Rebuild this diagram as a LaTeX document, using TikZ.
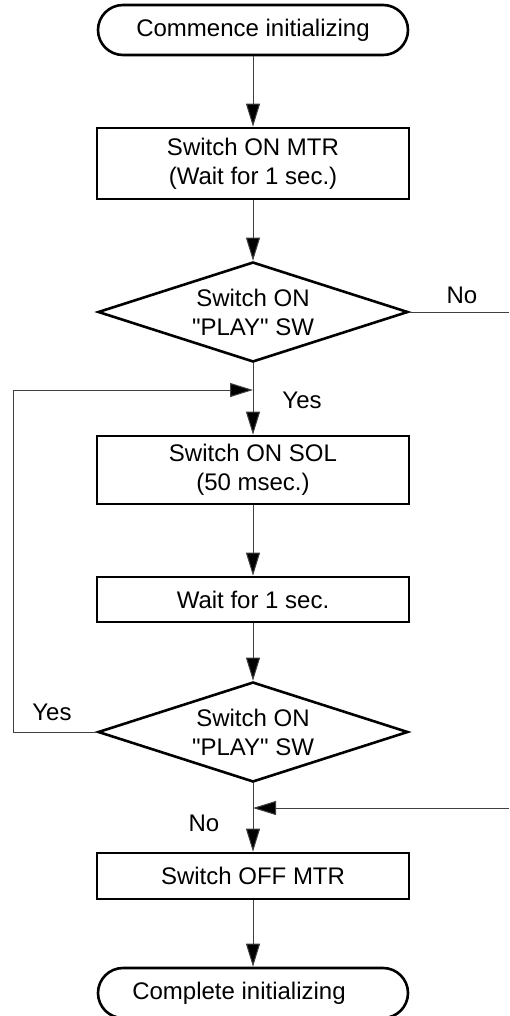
\documentclass[tikz,border=0pt]{standalone}
\usepackage{fontspec}
\setmainfont{Liberation Sans}[Ligatures=TeXOff]
\usetikzlibrary{shapes.geometric,arrows.meta}
\begin{document}
\begin{tikzpicture}[x=1pt,y=-1pt,
  every node/.style={font=\fontsize{24}{29}\selectfont},
  frame/.style={draw=black, line width=2.6pt},
  terminal/.style={frame, rounded corners=25pt, minimum width=310pt,
    minimum height=50pt, inner sep=0pt},
  process/.style={frame, minimum width=312pt, inner sep=0pt, align=center},
  decision/.style={frame, diamond, aspect=3.1, minimum width=310pt,
    minimum height=100pt, inner sep=0pt, align=center},
  link/.style={line width=1pt, draw=black!75},
  flow/.style={link, -{Triangle[length=23pt,width=14pt,fill=black]}},
  tag/.style={inner sep=0pt}
]
\useasboundingbox (0,0) rectangle (509,1016);
\clip (0,0) rectangle (509,1016);

% steps of the initializing sequence
\node[terminal] (start) at (253,30) {Commence initializing};
\node[process, minimum height=71pt] (mtr) at (253,163.5) {Switch ON MTR\\(Wait for 1 sec.)};
\node[decision] (play1) at (253,312) {Switch ON\\"PLAY" SW};
\node[process, minimum height=68pt] (sol) at (253,470) {Switch ON SOL\\(50 msec.)};
\node[process, minimum height=45pt] (wait) at (253,599.5) {Wait for 1 sec.};
\node[decision] (play2) at (253,732) {Switch ON\\"PLAY" SW};
\node[process, minimum height=46pt] (off) at (253,876) {Switch OFF MTR};
\node[terminal] (end) at (253,993) {Complete initializing\rule{28pt}{0pt}};

% junction points and open line ends
\coordinate (loop) at (253,390);
\coordinate (loopcorner) at (13,390);
\coordinate (exit) at (509,312);
\coordinate (join) at (253,808);
\coordinate (enter) at (509,808);

% main flow
\draw[flow] (start) -- (mtr);
\draw[flow] (mtr) -- (play1);
\draw[flow] (play1) -- (sol);
\draw[flow] (sol) -- (wait);
\draw[flow] (wait) -- (play2);
\draw[flow] (play2) -- (off);
\draw[flow] (off) -- (end);

% branches
\draw[link] (play1.east) -- (exit);
\draw[flow] (play2.west) -| (loopcorner) -- (loop);
\draw[flow] (enter) -- (join);

% branch labels
\node[tag] (no1) at (462,295) {No};
\node[tag] (yes1) at (302,400) {Yes};
\node[tag] (yes2) at (52,712) {Yes};
\node[tag] (no2) at (204,823) {No};
\end{tikzpicture}
\end{document}
